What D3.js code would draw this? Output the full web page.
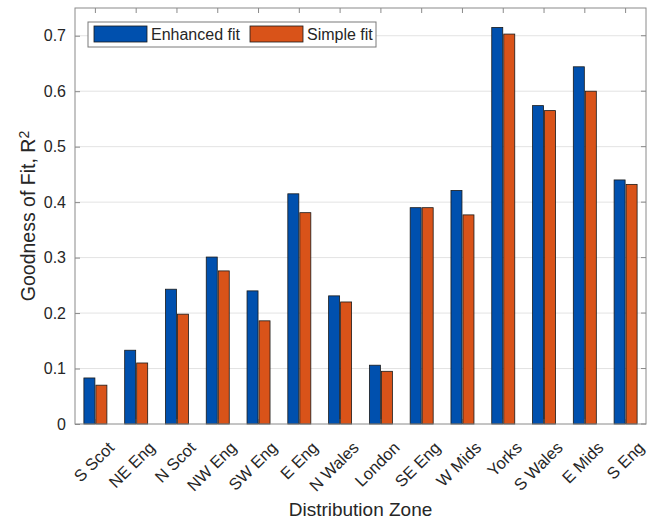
<!DOCTYPE html>
<html><head><meta charset="utf-8">
<script src="https://cdn.jsdelivr.net/npm/d3@7/dist/d3.min.js"></script>
<style>body{margin:0;background:#fff}svg{display:block}text{font-family:"Liberation Sans",Arial,sans-serif;fill:#262626}</style>
</head><body><svg id="c" width="654" height="522"></svg>
<script>
const categories = ["S Scot","NE Eng","N Scot","NW Eng","SW Eng","E Eng","N Wales","London","SE Eng","W Mids","Yorks","S Wales","E Mids","S Eng"];
const enhanced = [0.083,0.133,0.243,0.301,0.240,0.415,0.231,0.106,0.390,0.421,0.715,0.574,0.644,0.440];
const simple   = [0.070,0.110,0.198,0.276,0.186,0.381,0.220,0.095,0.390,0.377,0.703,0.565,0.600,0.432];
const yTicks = [0,0.1,0.2,0.3,0.4,0.5,0.6,0.7];
const seriesNames = ["Enhanced fit","Simple fit"];
const colors = ["#0050AE","#D95319"];

const svg = d3.select("#c");
const L=75,R=646,T=8,B=424;
const x = d3.scaleBand().domain(categories).range([L,R]).paddingInner(0).paddingOuter(0);
const y = d3.scaleLinear().domain([0,0.75]).range([B,T]);
const bw = 11;

// grid
svg.append("g").selectAll("line").data(yTicks.filter(d=>d>0)).join("line")
  .attr("x1",L).attr("x2",R).attr("y1",d=>y(d)).attr("y2",d=>y(d))
  .attr("stroke","#e3e3e3").attr("stroke-width",1);

// bars
const series=[enhanced,simple];
series.forEach((vals,si)=>{
  svg.append("g").selectAll("rect").data(categories).join("rect")
    .attr("x",(d)=>x(d)+x.bandwidth()/2 + (si===0? -bw-0.5 : 0.5))
    .attr("y",(d,i)=>y(vals[i]))
    .attr("width",bw)
    .attr("height",(d,i)=>B-y(vals[i]))
    .attr("fill",colors[si]).attr("stroke","#1a1a1a").attr("stroke-width",0.8);
});

// box
svg.append("rect").attr("x",L).attr("y",T).attr("width",R-L).attr("height",B-T)
  .attr("fill","none").attr("stroke","#8a8a8a").attr("stroke-width",1);

// y axis
const yAxis = d3.axisLeft(y).tickValues(yTicks).tickSize(-5).tickPadding(9).tickFormat(d=>d===0?"0":d3.format(".1f")(d));
const gy = svg.append("g").attr("transform",`translate(${L},0)`).call(yAxis);
gy.select(".domain").remove();
gy.selectAll(".tick line").attr("stroke","#8a8a8a");
gy.selectAll("text").style("font-size","16px").attr("fill","#262626");
// right ticks
svg.append("g").selectAll("line").data(yTicks).join("line")
  .attr("x1",R).attr("x2",R-5).attr("y1",d=>y(d)).attr("y2",d=>y(d)).attr("stroke","#8a8a8a");

// x axis
const xAxis = d3.axisBottom(x).tickSize(-5).tickSizeOuter(0).tickFormat("");
const gx = svg.append("g").attr("transform",`translate(0,${B})`).call(xAxis);
gx.select(".domain").remove();
gx.selectAll(".tick line").attr("stroke","#555");
svg.append("g").selectAll("line").data(categories).join("line")
  .attr("x1",d=>x(d)+x.bandwidth()/2).attr("x2",d=>x(d)+x.bandwidth()/2)
  .attr("y1",T).attr("y2",T+5).attr("stroke","#8a8a8a");
svg.append("g").selectAll("text").data(categories).join("text")
  .attr("transform",d=>`translate(${x(d)+x.bandwidth()/2+11},${B+16}) rotate(-45)`)
  .attr("text-anchor","end").attr("dy","0.75em").style("font-size","16.5px").text(d=>d);

// axis labels
svg.append("text").attr("x",(L+R)/2).attr("y",516).attr("text-anchor","middle").style("font-size","19px").text("Distribution Zone");
const yl = svg.append("text").attr("transform",`translate(35,${(T+B)/2}) rotate(-90)`).attr("text-anchor","middle").style("font-size","19.5px");
yl.append("tspan").text("Goodness of Fit, R");
yl.append("tspan").attr("dy","-0.45em").style("font-size","14px").text("2");

// legend
const lg = svg.append("g");
lg.append("rect").attr("x",88).attr("y",22).attr("width",288).attr("height",25).attr("fill","#fff").attr("stroke","#7a7a7a");
const lx=[94,250];
seriesNames.forEach((n,i)=>{
  lg.append("rect").attr("x",lx[i]).attr("y",26).attr("width",53).attr("height",16).attr("fill",colors[i]).attr("stroke","#1a1a1a").attr("stroke-width",0.8);
  lg.append("text").attr("x",lx[i]+57).attr("y",40).style("font-size","16px").text(n);
});
</script></body></html>
